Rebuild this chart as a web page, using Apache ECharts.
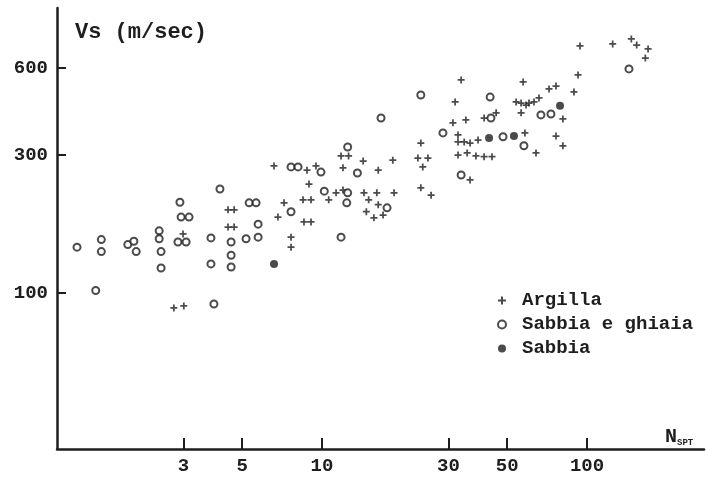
<!DOCTYPE html>
<html>
<head>
<meta charset="utf-8">
<script src="https://cdn.jsdelivr.net/npm/echarts@6/dist/echarts.min.js"></script>
<style>
  html, body { margin: 0; background: #fff; }
  #main { width: 706px; height: 477px; }
</style>
</head>
<body>
<div id="main"></div>
<script>
// [N_SPT, Vs (m/sec)]
const argilla = [
  [2.76, 88.7], [3.01, 90.2], [2.99, 160], [4.42, 194], [4.66, 194], [4.42, 169], [4.66, 169],
  [7.64, 156], [7.64, 144], [6.59, 275], [8.78, 266], [9.49, 275], [12.0, 271], [11.8, 298],
  [12.6, 298], [8.93, 238], [10.6, 210], [11.3, 222], [12.0, 227], [8.48, 210], [9.09, 210],
  [7.19, 205], [6.82, 183], [8.55, 176], [9.09, 176], [14.3, 286], [16.3, 266], [14.4, 222],
  [16.1, 222], [18.7, 222], [15.0, 210], [16.3, 202], [14.7, 191], [15.7, 182], [17.0, 186],
  [18.5, 288], [23.0, 293], [25.1, 293], [23.6, 330], [24.0, 273], [23.6, 231], [25.8, 218],
  [33.5, 546], [31.8, 458], [34.9, 397], [31.2, 388], [40.9, 403], [45.4, 420], [32.6, 352],
  [32.6, 333], [34.4, 333], [36.2, 330], [38.8, 338], [58.3, 358], [32.6, 300], [35.3, 305],
  [38.1, 298], [40.9, 296], [43.8, 296], [36.2, 246], [57.4, 537], [54.0, 458], [56.4, 454],
  [58.9, 447], [56.4, 420], [94.1, 716], [125, 727], [147, 757], [154, 721], [170, 699],
  [166, 650], [92.5, 568], [89.3, 496], [76.4, 520], [71.9, 508], [65.9, 473], [63.1, 458],
  [60.4, 454], [81.1, 400], [76.4, 349], [81.1, 323], [64.2, 305]
];
const sabbiaGhiaia = [
  [1.19, 144], [1.47, 153], [1.47, 139], [1.40, 102], [1.85, 147], [1.95, 151], [1.99, 139],
  [2.43, 164], [2.43, 154], [2.47, 139], [2.47, 122], [2.91, 206], [2.94, 183], [3.15, 183],
  [2.86, 150], [3.07, 150], [3.81, 155], [3.81, 126], [3.91, 91.6], [4.12, 229], [4.54, 150],
  [4.54, 135], [4.54, 123], [5.17, 154], [5.74, 156], [5.31, 205], [5.64, 205], [5.74, 173],
  [7.64, 273], [8.12, 273], [9.91, 262], [7.64, 191], [11.8, 156], [10.2, 225], [12.5, 222],
  [12.4, 205], [13.6, 260], [12.5, 320], [17.6, 197], [16.7, 403], [23.6, 484], [28.6, 358],
  [33.5, 256], [43.1, 476], [43.4, 403], [48.2, 347], [57.8, 323], [67.0, 413], [73.1, 416],
  [144, 596]
];
const sabbia = [[6.59, 126], [42.7, 344], [53.0, 349], [79.1, 444]];

const xTicks = [3, 5, 10, 30, 50, 100];
const yTicks = [100, 300, 600];

// both axes are logarithmic in the original
const toLog = (pts) => pts.map(([n, v]) => [Math.log10(n), Math.log10(v)]);
const fromLog = (v) => String(Math.round(Math.pow(10, v)));

const ink = '#1e1e1e';
const mono = 'Liberation Mono';
const plus = 'path://M3,0H5V3H8V5H5V8H3V5H0V3H3Z';

const myChart = echarts.init(document.getElementById('main'));

const option = {
  backgroundColor: '#fff',
  animation: false,
  title: [
    {
      text: 'Vs (m/sec)',
      left: 70,
      top: 16,
      textStyle: { fontFamily: mono, fontWeight: 'bold', fontSize: 22, color: ink },
    },
    {
      text: '{n|N}{s|SPT}',
      left: 660,
      top: 422,
      textStyle: {
        rich: {
          n: { fontFamily: mono, fontWeight: 'bold', fontSize: 20, color: ink },
          s: { fontFamily: mono, fontWeight: 'bold', fontSize: 9, color: ink, verticalAlign: 'bottom' },
        },
      },
    },
  ],
  legend: {
    orient: 'vertical',
    left: 492,
    top: 286,
    itemWidth: 8,
    itemHeight: 8,
    itemGap: 5,
    textStyle: {
      fontFamily: mono,
      fontWeight: 'bold',
      fontSize: 19,
      color: ink,
      padding: [0, 0, 0, 11],
    },
    data: ['Argilla', 'Sabbia e ghiaia', 'Sabbia'],
  },
  grid: { left: 57, right: 2, top: 8, bottom: 28, containLabel: false },
  xAxis: {
    type: 'value',
    min: 0,
    max: 2.4415,
    splitLine: { show: false },
    axisLine: { lineStyle: { color: ink, width: 2.5 } },
    axisTick: {
      inside: true,
      length: 11,
      customValues: xTicks.map(Math.log10),
      lineStyle: { color: ink, width: 2 },
    },
    axisLabel: {
      customValues: xTicks.map(Math.log10),
      formatter: fromLog,
      margin: 8,
      fontFamily: mono,
      fontWeight: 'bold',
      fontSize: 19,
      color: ink,
    },
  },
  yAxis: {
    type: 'value',
    min: 1.46,
    max: 2.986,
    splitLine: { show: false },
    axisLine: { lineStyle: { color: ink, width: 2.5 } },
    axisTick: {
      inside: true,
      length: 9,
      customValues: yTicks.map(Math.log10),
      lineStyle: { color: ink, width: 2 },
    },
    axisLabel: {
      customValues: yTicks.map(Math.log10),
      formatter: fromLog,
      margin: 9,
      fontFamily: mono,
      fontWeight: 'bold',
      fontSize: 19,
      color: ink,
    },
  },
  series: [
    {
      name: 'Argilla',
      type: 'scatter',
      symbol: plus,
      symbolSize: 7,
      itemStyle: { color: ink },
      data: toLog(argilla),
    },
    {
      name: 'Sabbia e ghiaia',
      type: 'scatter',
      symbol: 'emptyCircle',
      symbolSize: 7,
      itemStyle: { color: ink, borderWidth: 1.5 },
      data: toLog(sabbiaGhiaia),
    },
    {
      name: 'Sabbia',
      type: 'scatter',
      symbol: 'circle',
      symbolSize: 8,
      itemStyle: { color: ink },
      data: toLog(sabbia),
    },
  ],
};

myChart.setOption(option);
</script>
</body>
</html>
